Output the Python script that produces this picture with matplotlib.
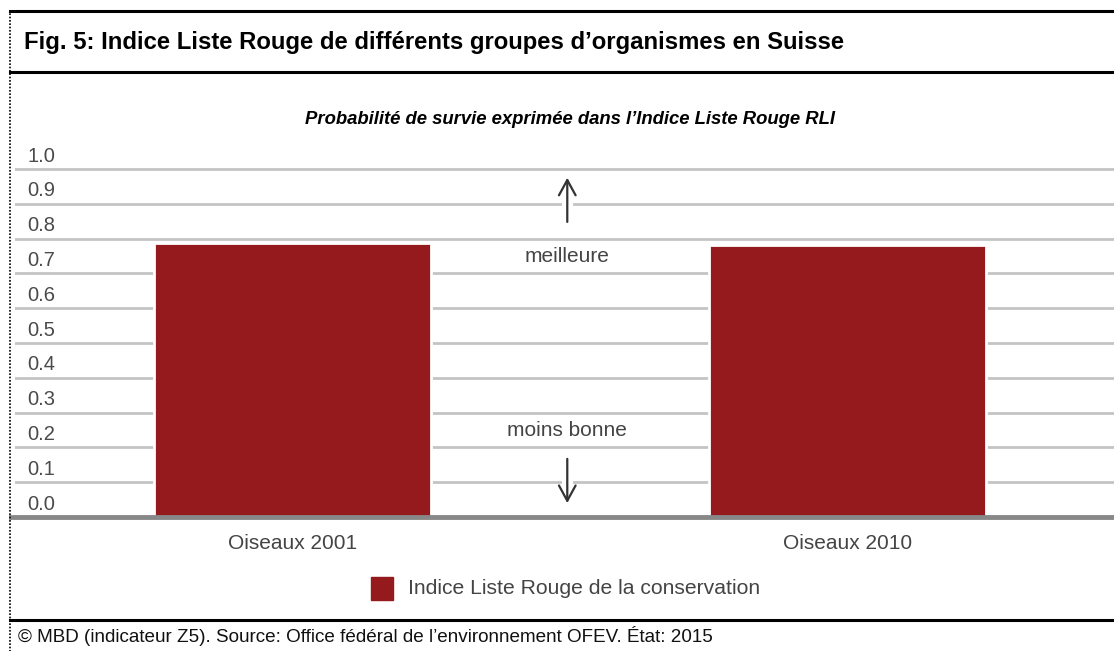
import matplotlib

matplotlib.use("Agg")
import matplotlib.pyplot as plt
from matplotlib.lines import Line2D
from matplotlib.patches import Rectangle

plt.rcParams["font.family"] = ["Liberation Sans", "DejaVu Sans"]

categories = ["Oiseaux 2001", "Oiseaux 2010"]
rli_values = [0.788, 0.781]
y_ticks = [0.0, 0.1, 0.2, 0.3, 0.4, 0.5, 0.6, 0.7, 0.8, 0.9, 1.0]
title = "Fig. 5: Indice Liste Rouge de différents groupes d\u2019organismes en Suisse"
subtitle = "Probabilité de survie exprimée dans l\u2019Indice Liste Rouge RLI"
legend_label = "Indice Liste Rouge de la conservation"
footer = "© MBD (indicateur Z5). Source: Office fédéral de l\u2019environnement OFEV. État: 2015"

BAR_COLOR = "#951a1e"
GRID_COLOR = "#c4c4c4"
TEXT_COLOR = "#444444"

W, H = 1114, 651
fig = plt.figure(figsize=(W / 100, H / 100), dpi=100)


def fx(px):
    return px / W


def fy(py):
    return 1 - py / H


# frame lines
fig.add_artist(Line2D([fx(10), 1], [fy(11), fy(11)], color="black", lw=2.2))
fig.add_artist(Line2D([fx(10), 1], [fy(72), fy(72)], color="black", lw=2.2))
fig.add_artist(Line2D([fx(10), 1], [fy(620), fy(620)], color="black", lw=2.2))
fig.add_artist(Line2D([fx(10), fx(10)], [fy(10), 0], color="black", lw=1.2, ls=(0, (1, 1))))

fig.text(fx(24), fy(42), title, fontsize=17.2, fontweight="bold", va="center", ha="left")
fig.text(fx(570), fy(120), subtitle, fontsize=13.3, fontweight="bold", fontstyle="italic",
         va="center", ha="center")
fig.text(fx(18), fy(636), footer, fontsize=13.6, va="center", ha="left", color="#111111")

# plot area
y0_px, per_unit = 517, 348
ymax = 1.05
ax = fig.add_axes([fx(15), fy(y0_px), 1 - fx(15), ymax * per_unit / H])
ax.set_xlim(-0.5, 1.48)
ax.set_ylim(0, ymax)
ax.axis("off")

for t in y_ticks:
    if t > 0:
        ax.axhline(t, color=GRID_COLOR, lw=2, zorder=1)
    ax.text(0.011, t + 0.01, f"{t:.1f}", transform=ax.get_yaxis_transform(),
            fontsize=14.5, color="#4a4a4a", va="bottom", ha="left")

xs = list(range(len(categories)))
ax.bar(xs, rli_values, width=0.5, color=BAR_COLOR, edgecolor="white", lw=2, zorder=2)

# baseline
ax.add_line(Line2D([-0.507, 1.48], [0, 0], color="#888888", lw=3.5, zorder=4, clip_on=False))

for x, lab in zip(xs, categories):
    ax.text(x, -0.075, lab, fontsize=15, color=TEXT_COLOR, ha="center", va="center")

# direction hints
mid = 0.495
for tail, head in [(0.848, 0.975), (0.167, 0.04)]:
    ax.plot([mid, mid], [tail, head], color="white", lw=8, zorder=2.5, solid_capstyle="butt")
    ax.annotate("", xy=(mid, head), xytext=(mid, tail),
                arrowprops=dict(arrowstyle="->,head_length=0.55,head_width=0.3",
                                color="#333333", lw=1.6, mutation_scale=20,
                                shrinkA=0, shrinkB=0), zorder=3)
ax.text(mid, 0.748, "meilleure", fontsize=15, color=TEXT_COLOR, ha="center", va="center")
ax.text(mid, 0.248, "moins bonne", fontsize=15, color=TEXT_COLOR, ha="center", va="center")

# legend
fig.add_artist(Rectangle((fx(371), fy(600)), fx(22), 23 / H, color=BAR_COLOR))
fig.text(fx(408), fy(589), legend_label, fontsize=15.2, color=TEXT_COLOR, va="center", ha="left")

fig.savefig("out.png", dpi=100)
plt.close(fig)
